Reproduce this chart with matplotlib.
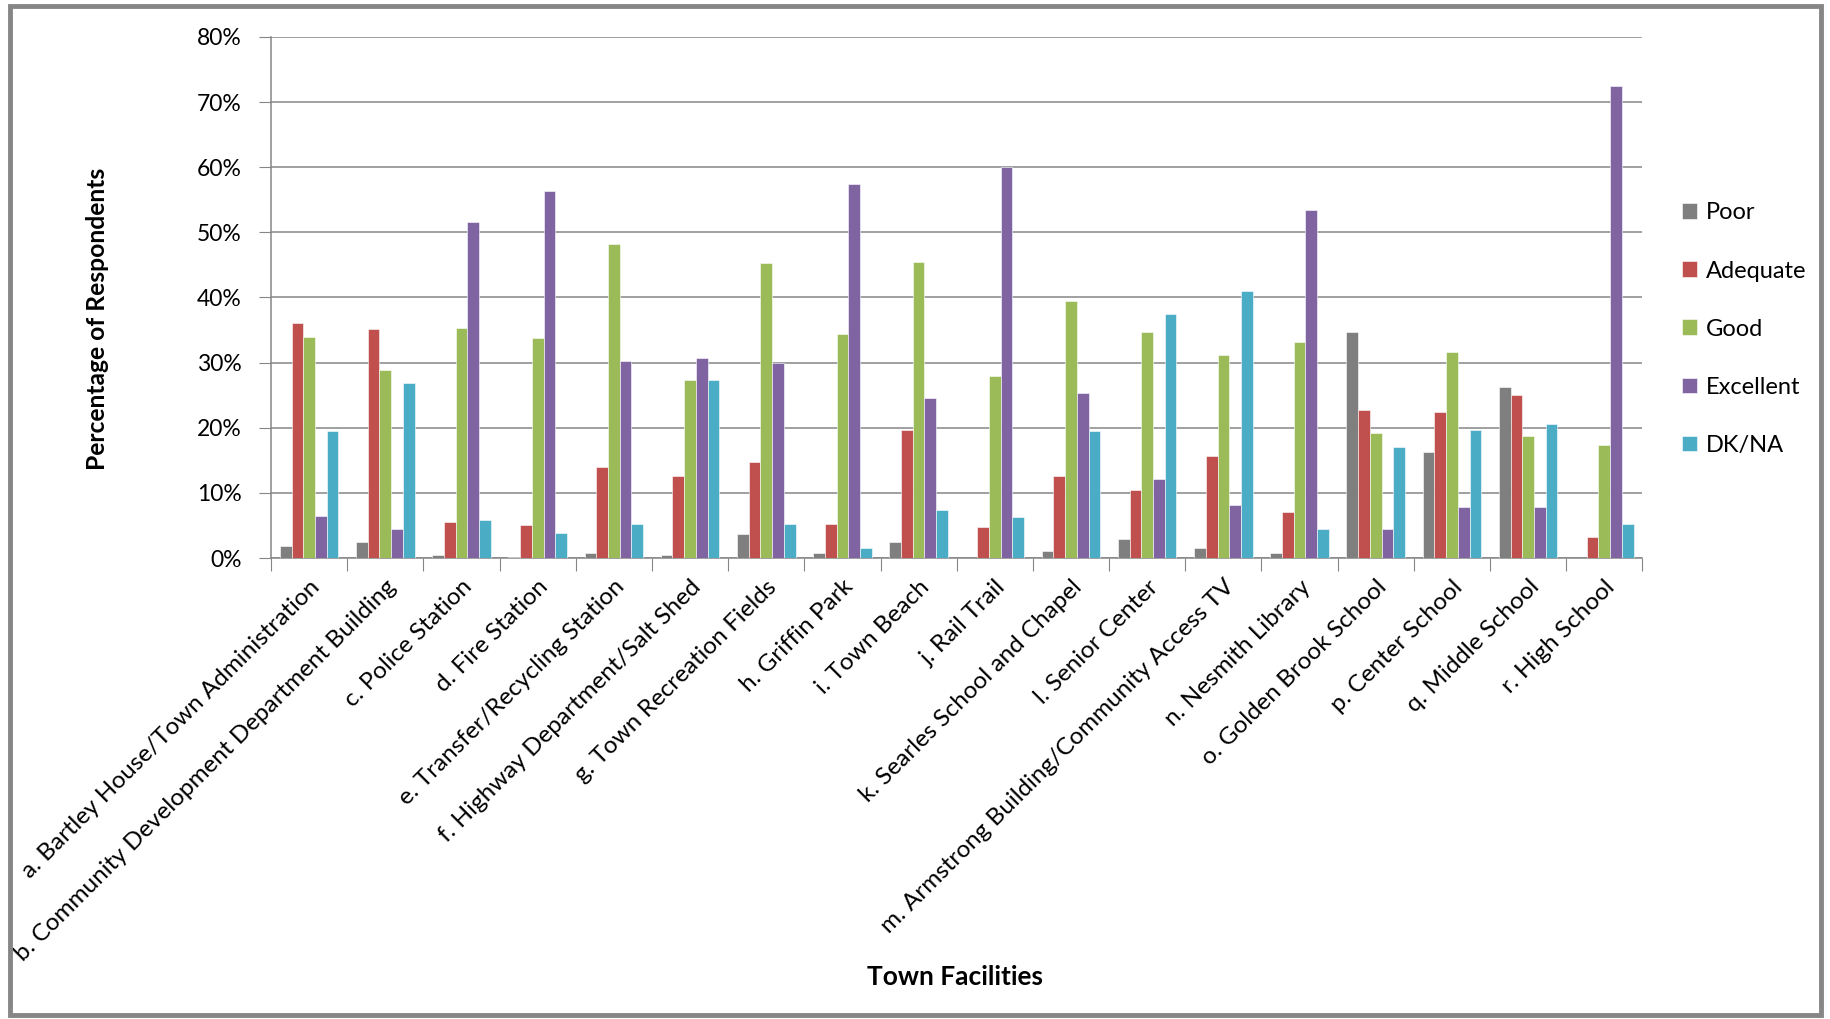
import numpy as np
import matplotlib.pyplot as plt
from matplotlib.patches import Rectangle

plt.rcParams['font.family'] = ['Lato', 'DejaVu Sans']

facilities = [
    "a. Bartley House/Town Administration",
    "b. Community Development Department Building",
    "c. Police Station",
    "d. Fire Station",
    "e. Transfer/Recycling Station",
    "f. Highway Department/Salt Shed",
    "g. Town Recreation Fields",
    "h. Griffin Park",
    "i. Town Beach",
    "j. Rail Trail",
    "k. Searles School and Chapel",
    "l. Senior Center",
    "m. Armstrong Building/Community Access TV",
    "n. Nesmith Library",
    "o. Golden Brook School",
    "p. Center School",
    "q. Middle School",
    "r. High School",
]

# percentages
poor      = [1.8, 2.5, 0.5, 0.2, 0.7, 0.5, 3.7, 0.7, 2.4, 0.0, 1.0, 2.9, 1.5, 0.7, 34.7, 16.2, 26.2, 0.0]
adequate  = [36.1, 35.1, 5.5, 5.0, 13.9, 12.6, 14.7, 5.2, 19.7, 4.7, 12.6, 10.4, 15.6, 7.1, 22.8, 22.4, 25.0, 3.3]
good      = [33.9, 28.9, 35.3, 33.8, 48.2, 27.3, 45.3, 34.4, 45.5, 28.0, 39.5, 34.7, 31.1, 33.1, 19.2, 31.6, 18.8, 17.4]
excellent = [6.4, 4.5, 51.6, 56.3, 30.3, 30.7, 29.9, 57.4, 24.5, 60.0, 25.3, 12.1, 8.1, 53.4, 4.5, 7.8, 7.8, 72.4]
dkna      = [19.5, 26.9, 5.8, 3.8, 5.2, 27.3, 5.2, 1.5, 7.3, 6.3, 19.5, 37.4, 41.0, 4.5, 17.0, 19.7, 20.5, 5.2]

series = ["Poor", "Adequate", "Good", "Excellent", "DK/NA"]
colors = ["#7F7F7F", "#C0504D", "#9BBB59", "#8064A2", "#4BACC6"]

fig = plt.figure(figsize=(18.31, 10.19), dpi=100)
ax = fig.add_axes([0.148, 0.4524, 0.749, 0.5113])

x = np.arange(len(facilities))
w = 1 / 6.5
for i, (name, vals) in enumerate(zip(series, [poor, adequate, good, excellent, dkna])):
    ax.bar(x + (i - 2) * w, vals, w, color=colors[i], label=name, zorder=3,
           edgecolor='white', linewidth=0.4)

grid_c = '#868686'
ax.set_xlim(-0.5, len(facilities) - 0.5)
ax.set_ylim(0, 80)
ax.set_yticks(np.arange(0, 81, 10))
ax.set_yticklabels([f"{v}%" for v in range(0, 81, 10)], fontsize=16.5)
ax.yaxis.grid(True, color=grid_c, linewidth=1.1, zorder=0)
ax.tick_params(axis='y', length=9, color=grid_c, pad=12)

# group boundary ticks, labels at group centres
ax.set_xticks(np.arange(-0.5, len(facilities), 1))
ax.set_xticklabels([])
ax.tick_params(axis='x', length=9, color=grid_c)
ax.set_xticks(x, minor=True)
ax.set_xticklabels(facilities, minor=True, rotation=45, ha='right', va='top',
                   rotation_mode='anchor', fontsize=17.5)
ax.tick_params(axis='x', which='minor', length=0, pad=13)

for s in ['top', 'right']:
    ax.spines[s].set_visible(False)
for s in ['left', 'bottom']:
    ax.spines[s].set_color(grid_c)
    ax.spines[s].set_linewidth(1.1)

fig.text(0.053, 0.687, "Percentage of Respondents", rotation=90, ha='center', va='center',
         fontsize=17.7, fontweight='bold')
fig.text(0.5215, 0.041, "Town Facilities", ha='center', va='center',
         fontsize=19, fontweight='bold')

fig.legend(loc='center left', bbox_to_anchor=(0.907, 0.677), frameon=False, fontsize=17,
           handlelength=0.65, handleheight=0.65, handletextpad=0.35, labelspacing=1.57)

# gray frame around the chart
fig.patches.append(Rectangle((0.0055, 0.004), 0.989, 0.99, transform=fig.transFigure,
                             fill=False, edgecolor='#868686', linewidth=3.5))

fig.savefig("out.png", dpi=100, facecolor='white')
